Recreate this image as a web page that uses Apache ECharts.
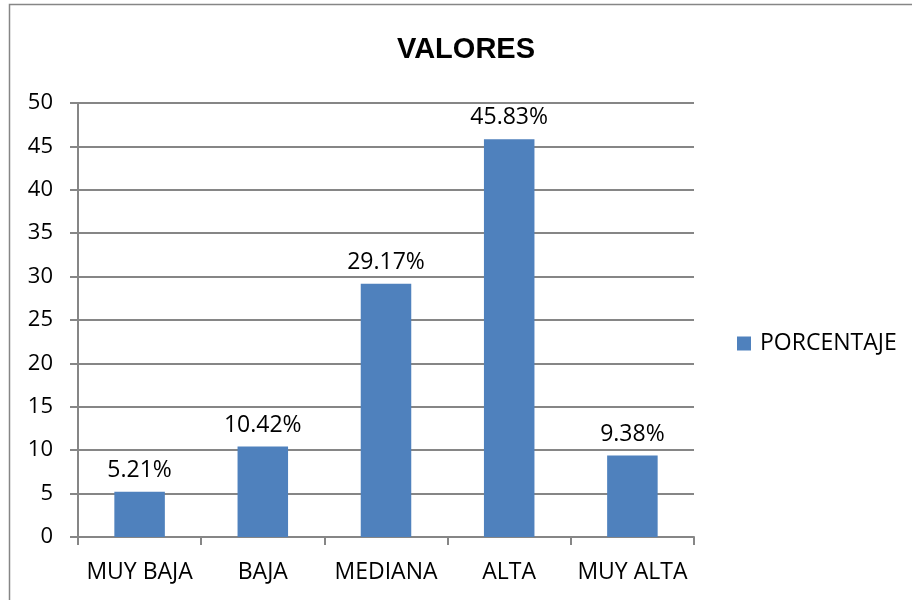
<!DOCTYPE html>
<html>
<head>
<meta charset="utf-8">
<script src="https://cdn.jsdelivr.net/npm/echarts@6/dist/echarts.min.js"></script>
<style>
html,body{margin:0;padding:0;background:#fff;}
#c{width:912px;height:600px;}
</style>
</head>
<body>
<div id="c"></div>
<script>
const categories = ['MUY BAJA', 'BAJA', 'MEDIANA', 'ALTA', 'MUY ALTA'];
const porcentaje = [5.21, 10.42, 29.17, 45.83, 9.38];
const seriesName = 'PORCENTAJE';
const chartTitle = 'VALORES';

const FONT = '"Open Sans", "Liberation Sans", sans-serif';
const GRAY = '#868686';

const chart = echarts.init(document.getElementById('c'), null, {renderer: 'canvas'});
chart.setOption({
  animation: false,
  backgroundColor: '#fff',
  graphic: [{
    type: 'rect',
    shape: {x: 9.5, y: 4.5, width: 1000, height: 1000},
    style: {fill: 'none', stroke: GRAY, lineWidth: 1.5},
    silent: true
  }],
  title: {
    text: chartTitle,
    left: 461,
    textAlign: 'center',
    top: 30,
    textStyle: {fontFamily: '"Liberation Sans", Arial, sans-serif', fontWeight: 'bold', fontSize: 29, color: '#000'}
  },
  legend: {
    data: [seriesName],
    left: 732,
    top: 327,
    itemWidth: 14,
    itemHeight: 14,
    icon: 'rect',
    textStyle: {fontFamily: FONT, fontSize: 23, color: '#000', padding: [0, 0, 0, 4]}
  },
  grid: {left: 78, right: 218, top: 103, bottom: 63, containLabel: false},
  xAxis: {
    type: 'category',
    data: categories,
    axisLine: {show: true, lineStyle: {color: GRAY, width: 2}},
    axisTick: {show: true, length: 8, lineStyle: {color: GRAY, width: 2}},
    axisLabel: {fontFamily: FONT, fontSize: 23, color: '#000', margin: 24, interval: 0}
  },
  yAxis: {
    type: 'value',
    min: 0,
    max: 50,
    interval: 5,
    axisLine: {show: true, lineStyle: {color: GRAY, width: 2}},
    axisTick: {show: true, length: 8, lineStyle: {color: GRAY, width: 2}},
    splitLine: {show: true, lineStyle: {color: GRAY, width: 2}},
    axisLabel: {fontFamily: FONT, fontSize: 22, color: '#000', margin: 25}
  },
  series: [{
    name: seriesName,
    type: 'bar',
    data: porcentaje,
    barWidth: '41%',
    itemStyle: {color: '#4F81BD'},
    label: {
      show: true,
      position: 'top',
      distance: 10,
      fontFamily: FONT,
      fontSize: 23,
      color: '#000',
      formatter: p => p.value.toFixed(2) + '%'
    }
  }]
});
</script>
</body>
</html>
